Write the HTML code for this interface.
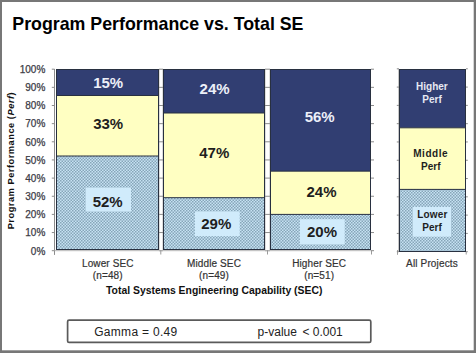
<!DOCTYPE html><html><head><meta charset="utf-8"><style>html,body{margin:0;padding:0;background:#fff;}svg{display:block;font-family:"Liberation Sans",sans-serif;}</style></head><body>
<svg width="476" height="353" viewBox="0 0 476 353">
<defs><pattern id="dots" width="3" height="3" patternUnits="userSpaceOnUse"><rect width="3" height="3" fill="#c6e2f3"/><rect x="0" y="0" width="1.5" height="1.5" fill="#86a5b8"/><rect x="1.5" y="1.5" width="1.5" height="1.5" fill="#86a5b8"/></pattern></defs>
<rect x="0" y="0" width="476" height="353" fill="#777"/>
<rect x="2" y="2" width="471.7" height="348.3" fill="#fff"/>
<text x="12.3" y="30" font-size="17.8" font-weight="bold" fill="#000">Program Performance vs. Total SE</text>
<text transform="translate(14.4,160.6) rotate(-90)" text-anchor="middle" font-size="9.3" letter-spacing="0.5" font-weight="bold" fill="#111">Program Performance (<tspan font-style="italic">Perf</tspan>)</text>
<text x="45.3" y="254.5" text-anchor="end" font-size="10" fill="#3c3c46" stroke="#3c3c46" stroke-width="0.25">0%</text>
<text x="45.3" y="236.3" text-anchor="end" font-size="10" fill="#3c3c46" stroke="#3c3c46" stroke-width="0.25">10%</text>
<text x="45.3" y="218.2" text-anchor="end" font-size="10" fill="#3c3c46" stroke="#3c3c46" stroke-width="0.25">20%</text>
<text x="45.3" y="200.1" text-anchor="end" font-size="10" fill="#3c3c46" stroke="#3c3c46" stroke-width="0.25">30%</text>
<text x="45.3" y="181.9" text-anchor="end" font-size="10" fill="#3c3c46" stroke="#3c3c46" stroke-width="0.25">40%</text>
<text x="45.3" y="163.8" text-anchor="end" font-size="10" fill="#3c3c46" stroke="#3c3c46" stroke-width="0.25">50%</text>
<text x="45.3" y="145.6" text-anchor="end" font-size="10" fill="#3c3c46" stroke="#3c3c46" stroke-width="0.25">60%</text>
<text x="45.3" y="127.4" text-anchor="end" font-size="10" fill="#3c3c46" stroke="#3c3c46" stroke-width="0.25">70%</text>
<text x="45.3" y="109.3" text-anchor="end" font-size="10" fill="#3c3c46" stroke="#3c3c46" stroke-width="0.25">80%</text>
<text x="45.3" y="91.1" text-anchor="end" font-size="10" fill="#3c3c46" stroke="#3c3c46" stroke-width="0.25">90%</text>
<text x="45.3" y="73.0" text-anchor="end" font-size="10" fill="#3c3c46" stroke="#3c3c46" stroke-width="0.25">100%</text>
<line x1="54.5" y1="69" x2="54.5" y2="254.9" stroke="#8c8c8c" stroke-width="1"/>
<line x1="51.8" y1="250.70" x2="54.5" y2="250.70" stroke="#8c8c8c" stroke-width="1"/>
<line x1="51.8" y1="232.55" x2="54.5" y2="232.55" stroke="#8c8c8c" stroke-width="1"/>
<line x1="51.8" y1="214.40" x2="54.5" y2="214.40" stroke="#8c8c8c" stroke-width="1"/>
<line x1="51.8" y1="196.25" x2="54.5" y2="196.25" stroke="#8c8c8c" stroke-width="1"/>
<line x1="51.8" y1="178.10" x2="54.5" y2="178.10" stroke="#8c8c8c" stroke-width="1"/>
<line x1="51.8" y1="159.95" x2="54.5" y2="159.95" stroke="#8c8c8c" stroke-width="1"/>
<line x1="51.8" y1="141.80" x2="54.5" y2="141.80" stroke="#8c8c8c" stroke-width="1"/>
<line x1="51.8" y1="123.65" x2="54.5" y2="123.65" stroke="#8c8c8c" stroke-width="1"/>
<line x1="51.8" y1="105.50" x2="54.5" y2="105.50" stroke="#8c8c8c" stroke-width="1"/>
<line x1="51.8" y1="87.35" x2="54.5" y2="87.35" stroke="#8c8c8c" stroke-width="1"/>
<line x1="51.8" y1="69.20" x2="54.5" y2="69.20" stroke="#8c8c8c" stroke-width="1"/>
<rect x="56.0" y="69.0" width="103.0" height="26.50" fill="#313e72"/>
<rect x="56.0" y="95.50" width="103.0" height="60.50" fill="#ffffc2"/>
<rect x="56.0" y="156.00" width="103.0" height="94.00" fill="url(#dots)"/>
<rect x="56.5" y="69.5" width="102.0" height="180.0" fill="none" stroke="#283040" stroke-width="1"/>
<line x1="56.0" y1="95.50" x2="159.0" y2="95.50" stroke="#283040" stroke-width="1"/>
<line x1="56.0" y1="156.00" x2="159.0" y2="156.00" stroke="#283040" stroke-width="1"/>
<rect x="163.0" y="69.0" width="102.0" height="44.00" fill="#313e72"/>
<rect x="163.0" y="113.00" width="102.0" height="84.70" fill="#ffffc2"/>
<rect x="163.0" y="197.70" width="102.0" height="52.30" fill="url(#dots)"/>
<rect x="163.5" y="69.5" width="101.0" height="180.0" fill="none" stroke="#283040" stroke-width="1"/>
<line x1="163.0" y1="113.00" x2="265.0" y2="113.00" stroke="#283040" stroke-width="1"/>
<line x1="163.0" y1="197.70" x2="265.0" y2="197.70" stroke="#283040" stroke-width="1"/>
<rect x="270.0" y="69.0" width="101.0" height="102.20" fill="#313e72"/>
<rect x="270.0" y="171.20" width="101.0" height="43.20" fill="#ffffc2"/>
<rect x="270.0" y="214.40" width="101.0" height="35.60" fill="url(#dots)"/>
<rect x="270.5" y="69.5" width="100.0" height="180.0" fill="none" stroke="#283040" stroke-width="1"/>
<line x1="270.0" y1="171.20" x2="371.0" y2="171.20" stroke="#283040" stroke-width="1"/>
<line x1="270.0" y1="214.40" x2="371.0" y2="214.40" stroke="#283040" stroke-width="1"/>
<rect x="85.7" y="187.6" width="45.3" height="23.9" fill="#d0ebfb"/>
<rect x="194.9" y="211.4" width="44.8" height="24.8" fill="#d0ebfb"/>
<rect x="299.9" y="219.2" width="44.8" height="25.2" fill="#d0ebfb"/>
<text x="108.2" y="88.1" text-anchor="middle" font-size="15" font-weight="bold" fill="#eceff8">15%</text>
<text x="108.2" y="129.3" text-anchor="middle" font-size="15" font-weight="bold" fill="#1e1e1e">33%</text>
<text x="107.7" y="206.5" text-anchor="middle" font-size="15" font-weight="bold" fill="#1e1e1e">52%</text>
<text x="214.6" y="93.6" text-anchor="middle" font-size="15" font-weight="bold" fill="#eceff8">24%</text>
<text x="214.3" y="158.3" text-anchor="middle" font-size="15" font-weight="bold" fill="#1e1e1e">47%</text>
<text x="216.3" y="229.3" text-anchor="middle" font-size="15" font-weight="bold" fill="#1e1e1e">29%</text>
<text x="319.7" y="121.7" text-anchor="middle" font-size="15" font-weight="bold" fill="#eceff8">56%</text>
<text x="321.5" y="197.0" text-anchor="middle" font-size="15" font-weight="bold" fill="#1e1e1e">24%</text>
<text x="322.0" y="236.9" text-anchor="middle" font-size="15" font-weight="bold" fill="#1e1e1e">20%</text>
<line x1="159.5" y1="69" x2="159.5" y2="250" stroke="#dedede" stroke-width="1"/>
<line x1="162.5" y1="69" x2="162.5" y2="250" stroke="#dedede" stroke-width="1"/>
<line x1="265.5" y1="69" x2="265.5" y2="250" stroke="#dedede" stroke-width="1"/>
<line x1="269.5" y1="69" x2="269.5" y2="250" stroke="#dedede" stroke-width="1"/>
<line x1="159.0" y1="250.70" x2="163.0" y2="250.70" stroke="#8c8c8c" stroke-width="1"/>
<line x1="159.0" y1="232.55" x2="163.0" y2="232.55" stroke="#8c8c8c" stroke-width="1"/>
<line x1="159.0" y1="214.40" x2="163.0" y2="214.40" stroke="#8c8c8c" stroke-width="1"/>
<line x1="159.0" y1="196.25" x2="163.0" y2="196.25" stroke="#8c8c8c" stroke-width="1"/>
<line x1="159.0" y1="178.10" x2="163.0" y2="178.10" stroke="#8c8c8c" stroke-width="1"/>
<line x1="159.0" y1="159.95" x2="163.0" y2="159.95" stroke="#8c8c8c" stroke-width="1"/>
<line x1="159.0" y1="141.80" x2="163.0" y2="141.80" stroke="#8c8c8c" stroke-width="1"/>
<line x1="159.0" y1="123.65" x2="163.0" y2="123.65" stroke="#8c8c8c" stroke-width="1"/>
<line x1="159.0" y1="105.50" x2="163.0" y2="105.50" stroke="#8c8c8c" stroke-width="1"/>
<line x1="159.0" y1="87.35" x2="163.0" y2="87.35" stroke="#8c8c8c" stroke-width="1"/>
<line x1="159.0" y1="69.20" x2="163.0" y2="69.20" stroke="#8c8c8c" stroke-width="1"/>
<line x1="265.0" y1="250.70" x2="270.0" y2="250.70" stroke="#8c8c8c" stroke-width="1"/>
<line x1="265.0" y1="232.55" x2="270.0" y2="232.55" stroke="#8c8c8c" stroke-width="1"/>
<line x1="265.0" y1="214.40" x2="270.0" y2="214.40" stroke="#8c8c8c" stroke-width="1"/>
<line x1="265.0" y1="196.25" x2="270.0" y2="196.25" stroke="#8c8c8c" stroke-width="1"/>
<line x1="265.0" y1="178.10" x2="270.0" y2="178.10" stroke="#8c8c8c" stroke-width="1"/>
<line x1="265.0" y1="159.95" x2="270.0" y2="159.95" stroke="#8c8c8c" stroke-width="1"/>
<line x1="265.0" y1="141.80" x2="270.0" y2="141.80" stroke="#8c8c8c" stroke-width="1"/>
<line x1="265.0" y1="123.65" x2="270.0" y2="123.65" stroke="#8c8c8c" stroke-width="1"/>
<line x1="265.0" y1="105.50" x2="270.0" y2="105.50" stroke="#8c8c8c" stroke-width="1"/>
<line x1="265.0" y1="87.35" x2="270.0" y2="87.35" stroke="#8c8c8c" stroke-width="1"/>
<line x1="265.0" y1="69.20" x2="270.0" y2="69.20" stroke="#8c8c8c" stroke-width="1"/>
<line x1="371.0" y1="250.70" x2="374.0" y2="250.70" stroke="#8c8c8c" stroke-width="1"/>
<line x1="371.0" y1="232.55" x2="374.0" y2="232.55" stroke="#8c8c8c" stroke-width="1"/>
<line x1="371.0" y1="214.40" x2="374.0" y2="214.40" stroke="#8c8c8c" stroke-width="1"/>
<line x1="371.0" y1="196.25" x2="374.0" y2="196.25" stroke="#8c8c8c" stroke-width="1"/>
<line x1="371.0" y1="178.10" x2="374.0" y2="178.10" stroke="#8c8c8c" stroke-width="1"/>
<line x1="371.0" y1="159.95" x2="374.0" y2="159.95" stroke="#8c8c8c" stroke-width="1"/>
<line x1="371.0" y1="141.80" x2="374.0" y2="141.80" stroke="#8c8c8c" stroke-width="1"/>
<line x1="371.0" y1="123.65" x2="374.0" y2="123.65" stroke="#8c8c8c" stroke-width="1"/>
<line x1="371.0" y1="105.50" x2="374.0" y2="105.50" stroke="#8c8c8c" stroke-width="1"/>
<line x1="371.0" y1="87.35" x2="374.0" y2="87.35" stroke="#8c8c8c" stroke-width="1"/>
<line x1="371.0" y1="69.20" x2="374.0" y2="69.20" stroke="#8c8c8c" stroke-width="1"/>
<line x1="54.5" y1="250.7" x2="371" y2="250.7" stroke="#b8b8b8" stroke-width="1"/>
<line x1="160.8" y1="250" x2="160.8" y2="254.5" stroke="#9a9a9a" stroke-width="1"/>
<line x1="267.5" y1="250" x2="267.5" y2="254.5" stroke="#9a9a9a" stroke-width="1"/>
<line x1="371.5" y1="250" x2="371.5" y2="254.5" stroke="#9a9a9a" stroke-width="1"/>
<text x="107.8" y="266.6" text-anchor="middle" font-size="10" letter-spacing="0.12" fill="#333" stroke="#333" stroke-width="0.2">Lower SEC</text>
<text x="107.8" y="278.6" text-anchor="middle" font-size="10" letter-spacing="0.12" fill="#333" stroke="#333" stroke-width="0.2">(n=48)</text>
<text x="214.0" y="266.6" text-anchor="middle" font-size="10" letter-spacing="0.12" fill="#333" stroke="#333" stroke-width="0.2">Middle SEC</text>
<text x="214.0" y="278.6" text-anchor="middle" font-size="10" letter-spacing="0.12" fill="#333" stroke="#333" stroke-width="0.2">(n=49)</text>
<text x="319.2" y="266.6" text-anchor="middle" font-size="10" letter-spacing="0.12" fill="#333" stroke="#333" stroke-width="0.2">Higher SEC</text>
<text x="319.2" y="278.6" text-anchor="middle" font-size="10" letter-spacing="0.12" fill="#333" stroke="#333" stroke-width="0.2">(n=51)</text>
<text x="214.2" y="293.7" text-anchor="middle" font-size="10.4" font-weight="bold" fill="#111">Total Systems Engineering Capability (SEC)</text>
<line x1="397.5" y1="250" x2="397.5" y2="254.8" stroke="#a0a0a0" stroke-width="1"/>
<line x1="398.5" y1="69" x2="398.5" y2="252" stroke="#c8c8c8" stroke-width="1"/>
<line x1="396.8" y1="68.80" x2="399" y2="68.80" stroke="#8c8c8c" stroke-width="1"/>
<line x1="466" y1="68.80" x2="467.8" y2="68.80" stroke="#8c8c8c" stroke-width="1"/>
<line x1="396.8" y1="87.09" x2="399" y2="87.09" stroke="#8c8c8c" stroke-width="1"/>
<line x1="466" y1="87.09" x2="467.8" y2="87.09" stroke="#8c8c8c" stroke-width="1"/>
<line x1="396.8" y1="105.38" x2="399" y2="105.38" stroke="#8c8c8c" stroke-width="1"/>
<line x1="466" y1="105.38" x2="467.8" y2="105.38" stroke="#8c8c8c" stroke-width="1"/>
<line x1="396.8" y1="123.67" x2="399" y2="123.67" stroke="#8c8c8c" stroke-width="1"/>
<line x1="466" y1="123.67" x2="467.8" y2="123.67" stroke="#8c8c8c" stroke-width="1"/>
<line x1="396.8" y1="141.96" x2="399" y2="141.96" stroke="#8c8c8c" stroke-width="1"/>
<line x1="466" y1="141.96" x2="467.8" y2="141.96" stroke="#8c8c8c" stroke-width="1"/>
<line x1="396.8" y1="160.25" x2="399" y2="160.25" stroke="#8c8c8c" stroke-width="1"/>
<line x1="466" y1="160.25" x2="467.8" y2="160.25" stroke="#8c8c8c" stroke-width="1"/>
<line x1="396.8" y1="178.54" x2="399" y2="178.54" stroke="#8c8c8c" stroke-width="1"/>
<line x1="466" y1="178.54" x2="467.8" y2="178.54" stroke="#8c8c8c" stroke-width="1"/>
<line x1="396.8" y1="196.83" x2="399" y2="196.83" stroke="#8c8c8c" stroke-width="1"/>
<line x1="466" y1="196.83" x2="467.8" y2="196.83" stroke="#8c8c8c" stroke-width="1"/>
<line x1="396.8" y1="215.12" x2="399" y2="215.12" stroke="#8c8c8c" stroke-width="1"/>
<line x1="466" y1="215.12" x2="467.8" y2="215.12" stroke="#8c8c8c" stroke-width="1"/>
<line x1="396.8" y1="233.41" x2="399" y2="233.41" stroke="#8c8c8c" stroke-width="1"/>
<line x1="466" y1="233.41" x2="467.8" y2="233.41" stroke="#8c8c8c" stroke-width="1"/>
<line x1="396.8" y1="251.70" x2="399" y2="251.70" stroke="#8c8c8c" stroke-width="1"/>
<line x1="466" y1="251.70" x2="467.8" y2="251.70" stroke="#8c8c8c" stroke-width="1"/>
<rect x="399.0" y="69.0" width="67.0" height="58.80" fill="#313e72"/>
<rect x="399.0" y="127.80" width="67.0" height="61.60" fill="#ffffc2"/>
<rect x="399.0" y="189.40" width="67.0" height="62.60" fill="url(#dots)"/>
<rect x="399.5" y="69.5" width="66.0" height="182.0" fill="none" stroke="#283040" stroke-width="1"/>
<line x1="399.0" y1="127.80" x2="466.0" y2="127.80" stroke="#283040" stroke-width="1"/>
<line x1="399.0" y1="189.40" x2="466.0" y2="189.40" stroke="#283040" stroke-width="1"/>
<line x1="466.2" y1="252" x2="466.2" y2="254.5" stroke="#9a9a9a" stroke-width="1"/>
<text x="431.9" y="89.8" text-anchor="middle" font-size="10" font-weight="bold" fill="#e6e9f3">Higher</text>
<text x="432.0" y="102.6" text-anchor="middle" font-size="10" font-weight="bold" fill="#e6e9f3">Perf</text>
<text x="430.7" y="156.9" text-anchor="middle" font-size="10" letter-spacing="0.55" font-weight="bold" fill="#1e1e1e">Middle</text>
<text x="430.8" y="169.5" text-anchor="middle" font-size="10" font-weight="bold" fill="#1e1e1e">Perf</text>
<rect x="412.8" y="206.9" width="38.2" height="29.8" fill="#d0ebfb"/>
<text x="432.4" y="218" text-anchor="middle" font-size="10" letter-spacing="0.2" font-weight="bold" fill="#1e1e1e">Lower</text>
<text x="432.0" y="230.7" text-anchor="middle" font-size="10" font-weight="bold" fill="#1e1e1e">Perf</text>
<text x="432" y="266.9" text-anchor="middle" font-size="10" letter-spacing="0.15" fill="#333" stroke="#333" stroke-width="0.2">All Projects</text>
<rect x="67.6" y="320.2" width="303.2" height="22.2" rx="1.5" fill="#fff" stroke="#5a5a5a" stroke-width="1.7"/>
<text x="94.2" y="335.8" font-size="12" letter-spacing="0.3" fill="#222">Gamma = 0.49</text>
<text x="257.6" y="335.8" font-size="12" fill="#222">p-value</text>
<text x="342.8" y="335.8" text-anchor="end" font-size="12" fill="#222">&lt; 0.001</text>
</svg></body></html>
